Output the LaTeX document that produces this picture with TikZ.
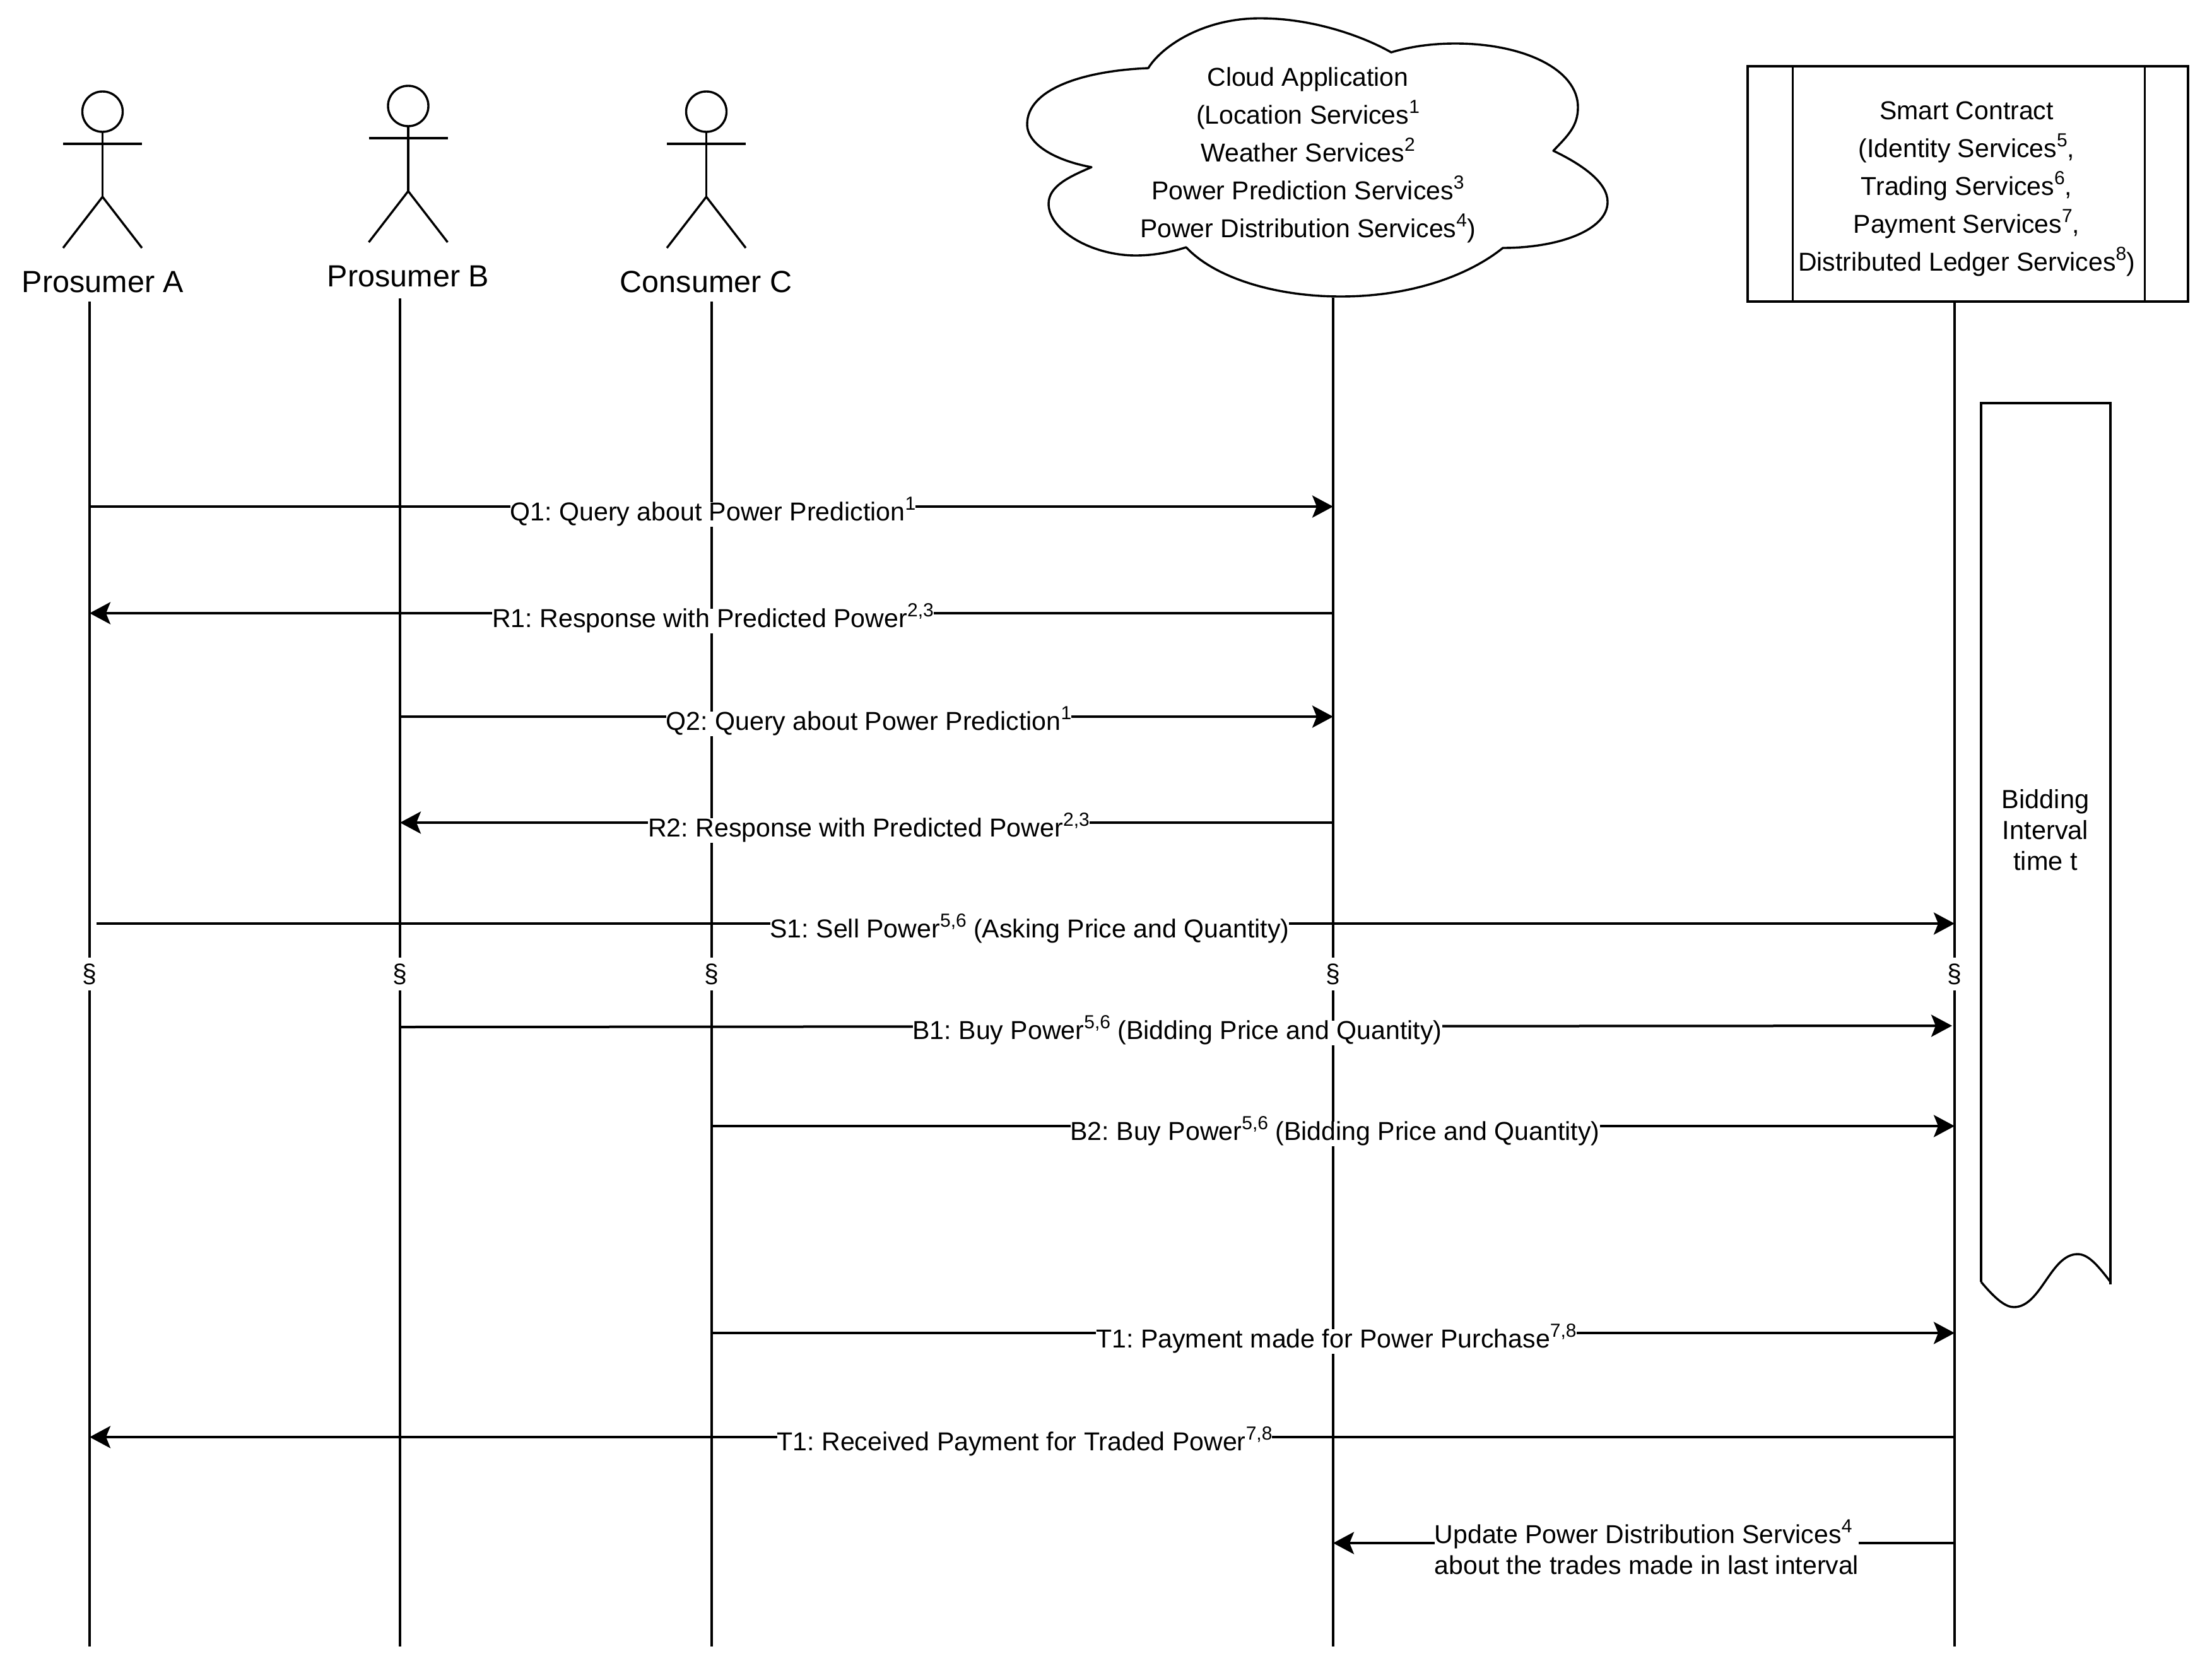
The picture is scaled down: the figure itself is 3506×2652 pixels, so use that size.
\documentclass[tikz,border=0pt]{standalone}
\usepackage{fontspec}
\setmainfont{Liberation Sans}
\usetikzlibrary{arrows.meta}
\newcommand{\sups}[1]{\raisebox{17pt}{\fontsize{30}{30}\selectfont #1}}
\tikzset{
  every node/.append style={execute at begin node=\frenchspacing},
  life/.style={line width=3.6pt},
  msg/.style={line width=4pt,-{Stealth[length=33pt,width=35pt,inset=7pt]}},
  lab/.style={fill=white,inner sep=0pt,text height=30pt,text depth=9pt,font=\fontsize{41.1}{49}\selectfont},
  actorlab/.style={inner sep=0pt,font=\fontsize{48.5}{58}\selectfont},
  multi/.style={inner sep=0pt,align=center,font=\fontsize{41}{60}\selectfont},
  sect/.style={inner sep=0pt,minimum height=52pt,minimum width=10pt,font=\fontsize{41}{49}\selectfont},
  shape line/.style={line width=3.4pt,line join=round},
  boxline/.style={line width=4.4pt},
}
\newcommand{\stick}[3]{% name, cx, y offset
  \draw[shape line] (#2,#3+177) circle[radius=32];
  \draw[shape line] (#2,#3+209) -- (#2,#3+312);
  \draw[shape line,line width=4.4pt] (#2-62.5,#3+228) -- (#2+62.5,#3+228);
  \draw[shape line] (#2-62.5,#3+393) -- (#2,#3+312) -- (#2+62.5,#3+393);
}
\begin{document}
\begin{tikzpicture}[x=1pt,y=-1pt]
\useasboundingbox (0,0) rectangle (3506,2652);
\fill[white] (0,0) rectangle (3506,2652);

% actors
\stick{a}{162.5}{0}
\stick{b}{647}{-9}
\stick{c}{1119.5}{0}
\node[actorlab] (prA) at (163,447) {Prosumer A};
\node[actorlab] (prB) at (647,438) {Prosumer B};
\node[actorlab] (prC) at (1119,447) {Consumer C};

% cloud
\draw[shape line] (1820,108)
  .. controls (1840,75) and (1905,29) .. (1997,29)
  .. controls (2085,29) and (2165,60) .. (2205,83)
  .. controls (2238,73) and (2272,69) .. (2307,69)
  .. controls (2415,69) and (2501,110) .. (2501,170)
  .. controls (2501,200) and (2485,215) .. (2462,239)
  .. controls (2510,262) and (2548,290) .. (2548,320)
  .. controls (2548,365) and (2470,393) .. (2382,393)
  .. controls (2330,435) and (2240,470) .. (2125,470)
  .. controls (2020,470) and (1925,440) .. (1880,392)
  .. controls (1855,400) and (1828,405) .. (1800,405)
  .. controls (1730,405) and (1662,365) .. (1662,323)
  .. controls (1662,295) and (1695,280) .. (1730,265)
  .. controls (1675,255) and (1628,230) .. (1628,197)
  .. controls (1628,140) and (1720,112) .. (1820,108) -- cycle;
\node[multi] (cloud) at (2073,246) {Cloud Application\\(Location Services\sups{1}\\Weather Services\sups{2}\\Power Prediction Services\sups{3}\\Power Distribution Services\sups{4})};

% smart contract
\draw[boxline] (2770,105) rectangle (3468,478);
\draw[line width=3pt] (2841,105) -- (2841,478) (3399,105) -- (3399,478);
\node[multi] (sc) at (3117,299) {Smart Contract\\(Identity Services\sups{5},\\Trading Services\sups{6},\\Payment Services\sups{7},\\Distributed Ledger Services\sups{8})};

% bidding tape
\draw[boxline] (3140,2032) -- (3140,639) -- (3345,639) -- (3345,2036);
\draw[shape line] (3140,2032) .. controls (3165,2062) and (3180,2072) .. (3192,2072)
  .. controls (3235,2072) and (3250,1988) .. (3293,1988)
  .. controls (3310,1988) and (3325,2006) .. (3345,2032);
\node[multi,font=\fontsize{41.5}{49}\selectfont] (bid) at (3242,1316) {Bidding\\Interval\\time t};

% lifelines
\foreach \n/\x/\t in {A/142/478,B/634/473,C/1128/478,D/2113/472,E/3098/480}{
  \coordinate (top\n) at (\x,\t);
  \coordinate (bot\n) at (\x,2610);
  \node[sect] (sec\n) at (\x,1544) {§};
  \draw[life] (top\n) -- (sec\n);
  \draw[life] (sec\n) -- (bot\n);
}

% messages
\coordinate (q1s) at (142,803);  \coordinate (q1e) at (2113,803);
\draw[msg] (q1s) -- (q1e);
\node[lab] (q1l) at (1130,815) {Q1: Query about Power Prediction\sups{1}};

\coordinate (r1s) at (2113,972); \coordinate (r1e) at (142,972);
\draw[msg] (r1s) -- (r1e);
\node[lab] (r1l) at (1130,984) {R1: Response with Predicted Power\sups{2,3}};

\coordinate (q2s) at (634,1136); \coordinate (q2e) at (2113,1136);
\draw[msg] (q2s) -- (q2e);
\node[lab] (q2l) at (1377,1147) {Q2: Query about Power Prediction\sups{1}};

\coordinate (r2s) at (2113,1304); \coordinate (r2e) at (634,1304);
\draw[msg] (r2s) -- (r2e);
\node[lab] (r2l) at (1377,1316) {R2: Response with Predicted Power\sups{2,3}};

\coordinate (s1s) at (153,1464); \coordinate (s1e) at (3098,1464);
\draw[msg] (s1s) -- (s1e);
\node[lab] (s1l) at (1632,1476) {S1: Sell Power\sups{5,6} (Asking Price and Quantity)};

\coordinate (b1s) at (634,1628); \coordinate (b1e) at (3094,1626);
\draw[msg] (b1s) -- (b1e);
\node[lab] (b1l) at (1866,1637) {B1: Buy Power\sups{5,6} (Bidding Price and Quantity)};

\coordinate (b2s) at (1128,1785); \coordinate (b2e) at (3098,1785);
\draw[msg] (b2s) -- (b2e);
\node[lab] (b2l) at (2116,1797) {B2: Buy Power\sups{5,6} (Bidding Price and Quantity)};

\coordinate (t1s) at (1128,2113); \coordinate (t1e) at (3098,2113);
\draw[msg] (t1s) -- (t1e);
\node[lab] (t1l) at (2118,2126) {T1: Payment made for Power Purchase\sups{7,8}};

\coordinate (t2s) at (3098,2278); \coordinate (t2e) at (142,2278);
\draw[msg] (t2s) -- (t2e);
\node[lab] (t2l) at (1624,2289) {T1: Received Payment for Traded Power\sups{7,8}};

\coordinate (us) at (3098,2446); \coordinate (ue) at (2113,2446);
\draw[msg] (us) -- (ue);
\node[fill=white,inner sep=0pt,align=left,font=\fontsize{41}{49}\selectfont] (ul) at (2610,2452) {Update Power Distribution Services\sups{4}\\about the trades made in last interval};
\end{tikzpicture}
\end{document}
